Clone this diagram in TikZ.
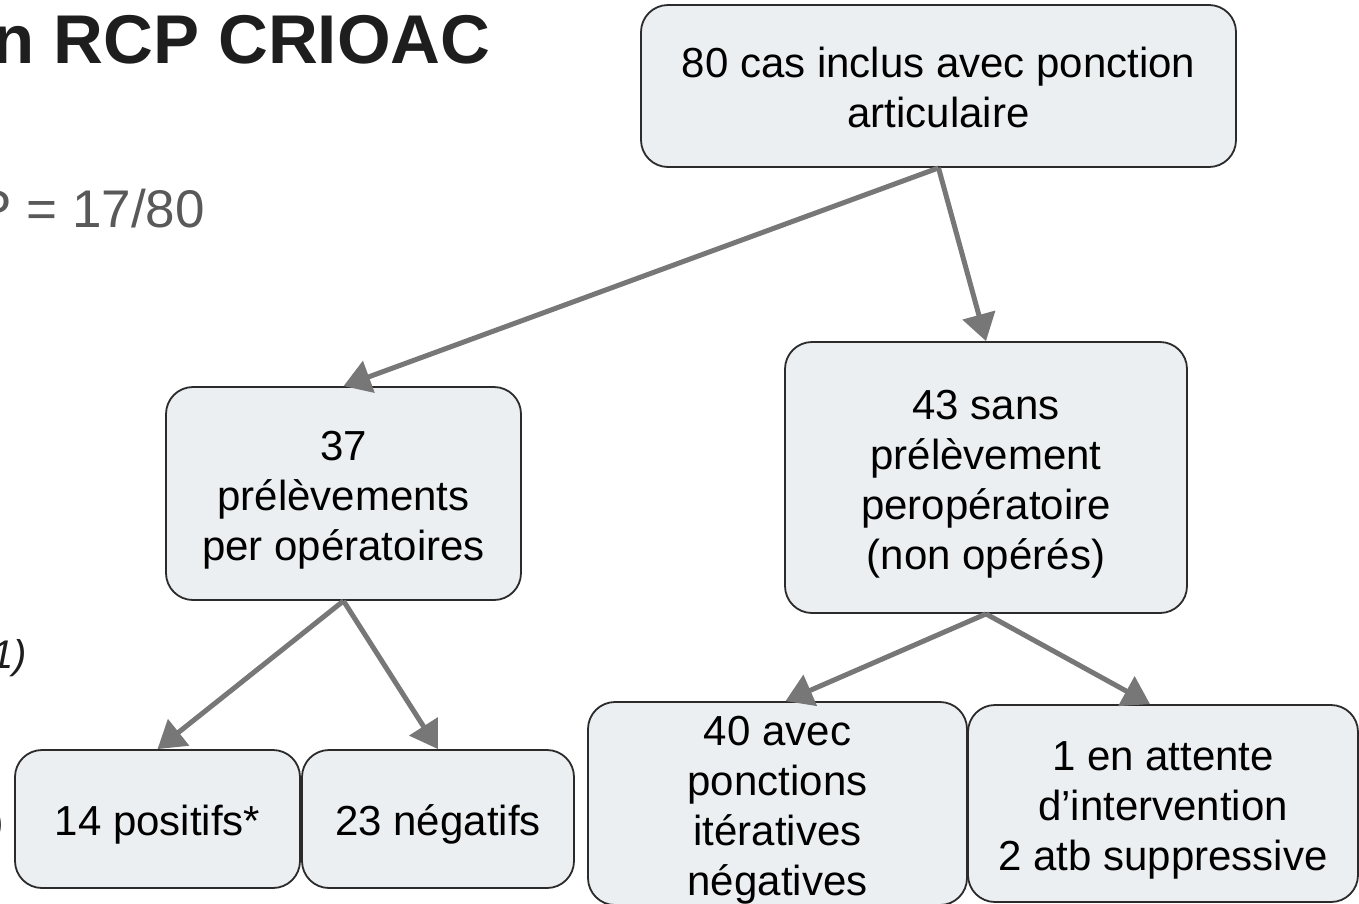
\documentclass[tikz,border=0pt]{standalone}
\usepackage{fontspec}
\setmainfont{Liberation Sans}[BoldFont={Liberation Sans Bold},ItalicFont={Liberation Sans Italic}]
\usetikzlibrary{arrows.meta}
\definecolor{boxfill}{HTML}{ECEFF1}
\definecolor{boxline}{HTML}{2B2B2B}
\definecolor{arrowgray}{HTML}{777777}
\definecolor{titlecol}{HTML}{1E1E1E}
\definecolor{subcol}{HTML}{595959}
\newcommand\myTopStrut{\rule{0pt}{43pt}}
\newcommand\myBotStrut{\rule[-10pt]{0pt}{10pt}}
\tikzset{
 flowbox/.style={draw=boxline, line width=1.8pt, fill=boxfill, rounded corners=27pt,
   inner sep=0pt, align=center, font=\fontsize{42}{50}\selectfont, text=black},
 flowarrow/.style={draw=arrowgray, line width=5pt, -{Triangle[length=27pt,width=33pt]}},
 plaintext/.style={inner sep=0pt},
}
\begin{document}
\begin{tikzpicture}[x=1pt,y=-1pt]
\useasboundingbox (0,0) rectangle (1359,903);
\fill[white] (0,0) rectangle (1359,903);
\clip (0,0) rectangle (1359,903);

\node[plaintext, anchor=base west, font=\fontsize{69}{80}\selectfont\bfseries, text=titlecol] (title) at (-8,63) {n RCP CRIOAC};
\node[plaintext, anchor=base west, font=\fontsize{53}{60}\selectfont, text=subcol] (ratio) at (-23.6,227) {P = 17/80};
\node[plaintext, anchor=base east, font=\fontsize{40}{48}\selectfont\itshape, text=titlecol] (note) at (27,668) {1)};
\node[plaintext, anchor=base east, font=\fontsize{40}{48}\selectfont, text=titlecol] (paren) at (4,835) {)};

\node[flowbox, minimum width=595pt, minimum height=162pt] (A) at (938.5,86)
  {\myTopStrut 80 cas inclus avec ponction\\articulaire\myBotStrut};
\node[flowbox, minimum width=355pt, minimum height=213pt] (B) at (343.5,493.5)
  {\myTopStrut 37\\prélèvements\\per opératoires\myBotStrut};
\node[flowbox, minimum width=402pt, minimum height=271pt] (C) at (986,477.5)
  {\myTopStrut 43 sans\\prélèvement\\peropératoire\\(non opérés)\myBotStrut};
\node[flowbox, minimum width=285pt, minimum height=138pt] (D) at (157.5,819)
  {\myTopStrut 14 positifs*\myBotStrut};
\node[flowbox, minimum width=272pt, minimum height=138pt] (E) at (438,819)
  {\myTopStrut 23 négatifs\myBotStrut};
\node[flowbox, minimum width=379pt, minimum height=197pt] (F) at (777.5,803.5)
  {\myTopStrut 40 avec\\ponctions\\itératives\\négatives\myBotStrut};
\node[flowbox, minimum width=390pt, minimum height=197pt] (G) at (1163,803.5)
  {\myTopStrut 1 en attente\\d’intervention\\2 atb suppressive\myBotStrut};

\draw[flowarrow] (A.south) -- (B.north);
\draw[flowarrow] (A.south) -- (C.north);
\draw[flowarrow] (B.south) -- (D.north);
\draw[flowarrow] (B.south) -- (E.north);
\draw[flowarrow] (C.south) -- ([xshift=8pt]F.north);
\draw[flowarrow] (C.south) -- ([xshift=-13pt]G.north);
\end{tikzpicture}
\end{document}
